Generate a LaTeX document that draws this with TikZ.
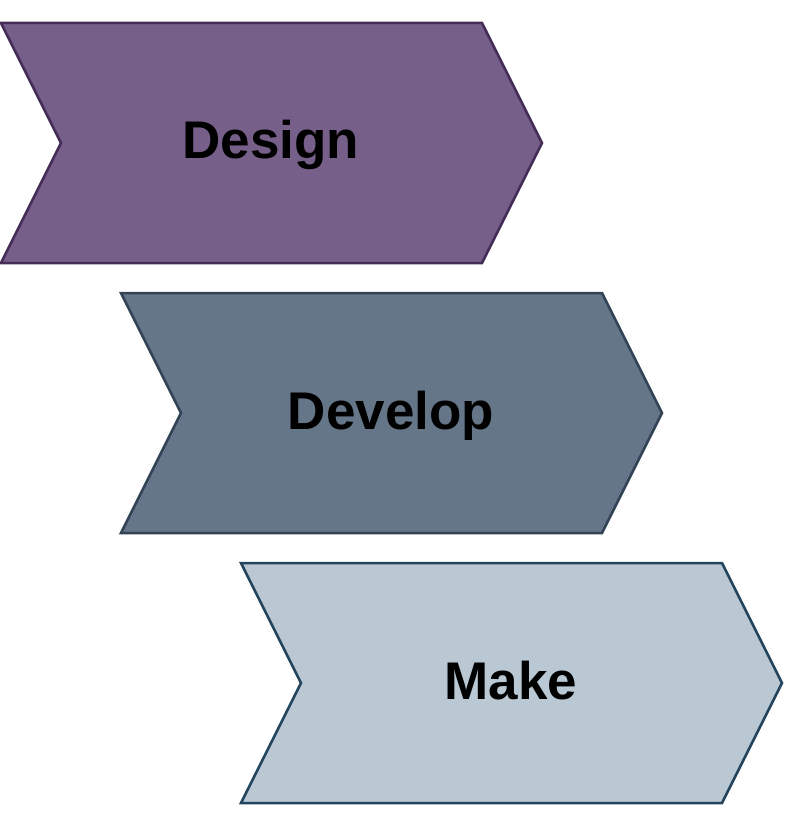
\documentclass[tikz,border=0pt]{standalone}
\usepackage{fontspec}
\setmainfont{Liberation Sans}
\usepackage{tikz}

\definecolor{designfill}{HTML}{76608A}
\definecolor{designline}{HTML}{432D57}
\definecolor{developfill}{HTML}{647687}
\definecolor{developline}{HTML}{314354}
\definecolor{makefill}{HTML}{BAC8D3}
\definecolor{makeline}{HTML}{23445D}

\tikzset{
  phase label/.style={font=\fontsize{53}{60}\selectfont\bfseries, text=black, inner sep=0pt, anchor=base}
}

\begin{document}
\begin{tikzpicture}[x=1pt, y=-1pt, line width=2.5pt]
\useasboundingbox (0,0) rectangle (795,829);

\foreach \x/\y/\fillc/\linec/\word [count=\i] in {1/23/designfill/designline/Design,
                                                 121/293/developfill/developline/Develop,
                                                 241/563/makefill/makeline/Make}{
  \draw[draw=\linec, fill=\fillc] (\x,\y) -- ++(481,0) -- ++(60,120) -- ++(-60,120)
        -- ++(-481,0) -- ++(60,-120) -- cycle;
  \node[phase label] (phase\i) at (\x+270,\y+136) {\word};
}

\end{tikzpicture}
\end{document}
